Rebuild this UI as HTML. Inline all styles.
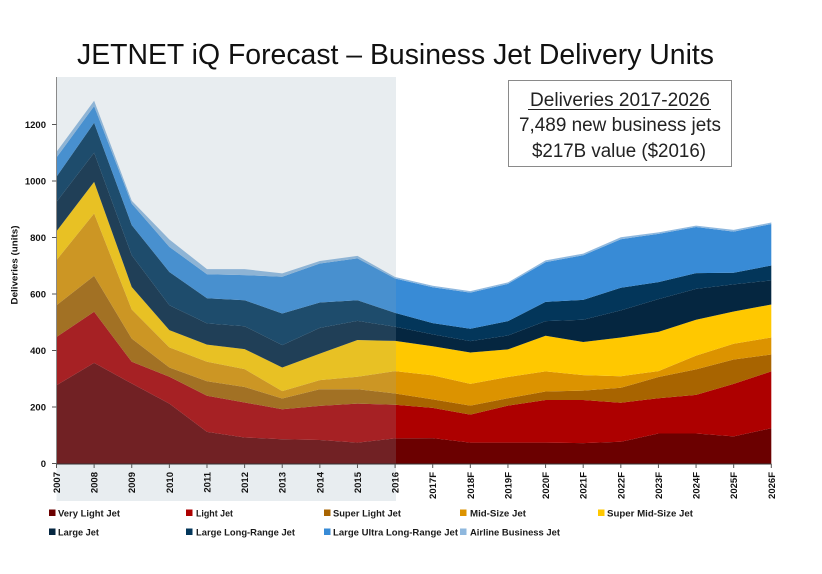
<!DOCTYPE html>
<html lang="en">
<head>
<meta charset="utf-8">
<title>JETNET iQ Forecast</title>
<style>
html,body{margin:0;padding:0;background:#fff;}
svg{display:block;font-family:"Liberation Sans",sans-serif;}
</style>
</head>
<body>
<svg id="chart" xmlns="http://www.w3.org/2000/svg" width="822" height="574" viewBox="0 0 822 574">
  <rect x="0" y="0" width="822" height="574" fill="#fff"/>
  <text x="77" y="64" font-size="29" fill="#111" textLength="637" lengthAdjust="spacingAndGlyphs">JETNET iQ Forecast – Business Jet Delivery Units</text>
  <g id="areas"></g>
  <rect x="56.5" y="77" width="339.5" height="424" fill="rgb(140,165,180)" fill-opacity="0.2"/>
  <line x1="56.5" y1="77" x2="56.5" y2="464" stroke="#8a8a8a" stroke-width="1"/>
  <line x1="56.5" y1="464" x2="771.5" y2="464" stroke="#333" stroke-width="1"/>
  <g id="yticks"></g>
  <g id="xticks"></g>
  <text transform="translate(17.5,265) rotate(-90)" text-anchor="middle" font-size="9.5" font-weight="bold" fill="#111" textLength="79" lengthAdjust="spacingAndGlyphs">Deliveries (units)</text>
  <g id="legend"></g>
  <g>
    <rect x="508.5" y="80.5" width="223" height="86" fill="#fff" stroke="#8a8a8a" stroke-width="1"/>
    <text x="530" y="106" font-size="19" fill="#222" textLength="180" lengthAdjust="spacingAndGlyphs">Deliveries 2017-2026</text>
    <line x1="528" y1="109.5" x2="711" y2="109.5" stroke="#222" stroke-width="1"/>
    <text x="519" y="131" font-size="19" fill="#222" textLength="202" lengthAdjust="spacingAndGlyphs">7,489 new business jets</text>
    <text x="532" y="157" font-size="19" fill="#222" textLength="174" lengthAdjust="spacingAndGlyphs">$217B value ($2016)</text>
  </g>
</svg>
<script>
const categories = ["2007","2008","2009","2010","2011","2012","2013","2014","2015","2016","2017F","2018F","2019F","2020F","2021F","2022F","2023F","2024F","2025F","2026F"];
const yTickValues = [0,200,400,600,800,1000,1200];
const veryLightJet = [277,356,283,212,112,92,86,83,74,89,90,74,74,74,72,77,106,106,96,125];
const lightJet = [171,181,77,95,128,124,106,121,138,119,107,99,131,151,153,138,125,137,186,201];
const superLightJet = [112,127,82,33,51,55,38,59,51,40,30,32,26,30,33,53,75,90,86,60];
const midSizeJet = [160,221,103,71,69,63,26,32,44,79,85,77,75,71,55,41,21,49,56,60];
const superMidSizeJet = [102,112,80,61,61,71,84,94,130,107,103,111,98,126,117,137,139,127,114,117];
const largeJet = [104,103,112,88,75,81,79,91,68,50,42,40,49,52,79,96,116,109,96,85];
const largeLongRangeJet = [89,106,107,118,89,92,112,90,73,49,40,44,51,68,70,80,60,56,41,53];
const largeUltraLongRangeJet = [68,59,76,89,85,89,130,138,148,122,127,128,132,141,158,172,171,163,146,147];
const airlineBusinessJet = [20,19,10,26,18,21,12,9,9,5,5,5,5,6,6,7,5,5,6,5];

const NS = "http://www.w3.org/2000/svg";
const xScale = i => 56.5 + i * (771.3 - 56.5) / (categories.length - 1);
const yScale = v => 463.5 - v * 0.2825;

const seriesList = [
  {label:"Very Light Jet", values:veryLightJet, color:"#6b0000", lx:49, tx:58, ly:513, tw:62},
  {label:"Light Jet", values:lightJet, color:"#ad0000", lx:186, tx:196, ly:513, tw:37},
  {label:"Super Light Jet", values:superLightJet, color:"#a86400", lx:324, tx:333, ly:513, tw:68},
  {label:"Mid-Size Jet", values:midSizeJet, color:"#dc9300", lx:460, tx:470, ly:513, tw:56},
  {label:"Super Mid-Size Jet", values:superMidSizeJet, color:"#ffc800", lx:598, tx:607, ly:513, tw:86},
  {label:"Large Jet", values:largeJet, color:"#052640", lx:49, tx:58, ly:532, tw:41},
  {label:"Large Long-Range Jet", values:largeLongRangeJet, color:"#03365a", lx:186, tx:196, ly:532, tw:99},
  {label:"Large Ultra Long-Range Jet", values:largeUltraLongRangeJet, color:"#388bd6", lx:324, tx:333, ly:532, tw:125},
  {label:"Airline Business Jet", values:airlineBusinessJet, color:"#8fb8de", lx:460, tx:470, ly:532, tw:90}
];

const areasGroup = document.getElementById("areas");
const legendGroup = document.getElementById("legend");
const yTicksGroup = document.getElementById("yticks");
const xTicksGroup = document.getElementById("xticks");

let baseline = categories.map(() => 0);
seriesList.forEach(s => {
  const tops = baseline.map((b, i) => b + s.values[i]);
  const upper = tops.map((v, i) => xScale(i).toFixed(2) + "," + yScale(v).toFixed(2));
  const lower = baseline.map((v, i) => xScale(i).toFixed(2) + "," + yScale(v).toFixed(2)).reverse();
  const slug = s.label.toLowerCase().replace(/\s+/g, "-");
  const poly = document.createElementNS(NS, "polygon");
  poly.setAttribute("points", upper.concat(lower).join(" "));
  poly.setAttribute("fill", s.color);
  
  
  areasGroup.appendChild(poly);
  baseline = tops;

  const entry = document.createElementNS(NS, "g");
  
  
  const swatch = document.createElementNS(NS, "rect");
  swatch.setAttribute("x", s.lx);
  swatch.setAttribute("y", s.ly - 3.5);
  swatch.setAttribute("width", 6.5);
  swatch.setAttribute("height", 6.5);
  swatch.setAttribute("fill", s.color);
  
  
  entry.appendChild(swatch);
  const text = document.createElementNS(NS, "text");
  text.setAttribute("x", s.tx);
  text.setAttribute("y", s.ly + 3.5);
  text.setAttribute("font-size", 9.5);
  text.setAttribute("font-weight", "bold");
  text.setAttribute("fill", "#1a1a1a");
  text.setAttribute("textLength", s.tw);
  text.setAttribute("lengthAdjust", "spacingAndGlyphs");
  
  
  text.textContent = s.label;
  entry.appendChild(text);
  legendGroup.appendChild(entry);
});

yTickValues.forEach(v => {
  const y = yScale(v);
  const tick = document.createElementNS(NS, "line");
  tick.setAttribute("x1", 52);
  tick.setAttribute("x2", 56.5);
  tick.setAttribute("y1", y);
  tick.setAttribute("y2", y);
  tick.setAttribute("stroke", "#555");
  
  
  yTicksGroup.appendChild(tick);
  const label = document.createElementNS(NS, "text");
  label.setAttribute("x", 46);
  label.setAttribute("y", y + 3.5);
  label.setAttribute("text-anchor", "end");
  label.setAttribute("font-size", 9.5);
  label.setAttribute("font-weight", "bold");
  label.setAttribute("fill", "#111");
  
  
  label.textContent = v;
  yTicksGroup.appendChild(label);
});

categories.forEach((c, i) => {
  const x = xScale(i);
  const tick = document.createElementNS(NS, "line");
  tick.setAttribute("x1", x);
  tick.setAttribute("x2", x);
  tick.setAttribute("y1", 464);
  tick.setAttribute("y2", 468);
  tick.setAttribute("stroke", "#555");
  
  
  xTicksGroup.appendChild(tick);
  const label = document.createElementNS(NS, "text");
  label.setAttribute("transform", "translate(" + (x + 3.5).toFixed(2) + ",472) rotate(-90)");
  label.setAttribute("text-anchor", "end");
  label.setAttribute("font-size", 9.5);
  label.setAttribute("font-weight", "bold");
  label.setAttribute("fill", "#111");
  
  
  label.textContent = c;
  xTicksGroup.appendChild(label);
});
</script>
</body>
</html>
